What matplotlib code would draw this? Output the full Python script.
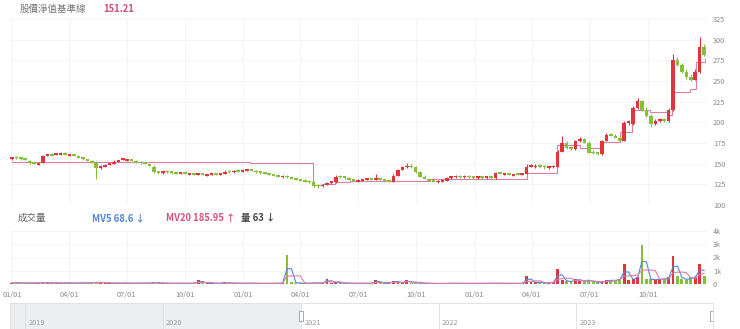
import numpy as np
import pandas as pd
import matplotlib
matplotlib.use("Agg")
import matplotlib.pyplot as plt
import matplotlib.dates as md
from matplotlib.patches import Rectangle
from matplotlib import transforms

plt.rcParams['font.family'] = ['Noto Sans CJK TC', 'DejaVu Sans']

# weekly candles, starting 2021-01-01
start_date = "2021-01-01"
opens = [156, 158, 157, 156, 154, 151, 149, 152, 160, 162,
         161, 161, 163, 160, 161, 159, 157, 155, 153, 152,
         145, 147, 149, 150, 153, 155, 154, 155, 153, 152,
         151, 150, 147, 140, 139, 141, 140, 139, 138, 139,
         137, 138, 137, 138, 136, 137, 138, 137, 138, 141,
         140, 142, 141, 142, 143, 141, 140, 139, 138, 137,
         136, 134, 135, 134, 132, 131, 130, 129, 128, 124,
         123, 125, 127, 128, 135, 134, 133, 131, 129, 130,
         131, 132, 131, 133, 131, 130, 129, 136, 143, 146,
         148, 146, 140, 135, 132, 130, 128, 129, 130, 133,
         134, 135, 134, 135, 134, 133, 134, 133, 134, 133,
         139, 137, 138, 136, 138, 137, 138, 147, 146, 148,
         147, 145, 146, 147, 165, 176, 170, 168, 178, 180,
         176, 164, 163, 162, 178, 185, 184, 182, 178, 200,
         198, 218, 226, 215, 208, 198, 202, 203, 202, 215,
         276, 270, 262, 255, 252, 262, 292]
highs = [158, 159, 158, 157, 155, 152, 151, 161, 162, 163,
         163, 164, 164, 162, 162, 160, 158, 156, 154, 153,
         148, 149, 151, 154, 155, 156, 156, 156, 154, 153,
         152, 151, 148, 141, 141, 142, 141, 140, 140, 140,
         139, 139, 139, 139, 138, 139, 139, 139, 142, 142,
         142, 143, 143, 144, 144, 142, 141, 140, 139, 138,
         137, 136, 136, 135, 133, 132, 131, 130, 129, 125,
         126, 128, 129, 136, 136, 135, 134, 132, 131, 132,
         133, 133, 137, 134, 132, 131, 137, 144, 147, 151,
         149, 147, 141, 136, 133, 131, 130, 131, 134, 135,
         136, 136, 136, 136, 135, 135, 135, 135, 135, 140,
         140, 139, 139, 138, 139, 139, 149, 149, 149, 149,
         148, 147, 148, 167, 183, 177, 171, 179, 182, 181,
         177, 166, 164, 179, 187, 187, 186, 184, 202, 203,
         220, 229, 227, 218, 210, 204, 205, 205, 217, 283,
         279, 272, 264, 258, 264, 303, 295]
lows = [155, 156, 155, 154, 150, 149, 148, 151, 159, 159,
        160, 160, 160, 159, 159, 157, 155, 153, 151, 132,
        144, 146, 148, 149, 152, 154, 153, 153, 151, 150,
        149, 147, 139, 138, 138, 139, 138, 137, 137, 137,
        136, 136, 136, 136, 135, 136, 136, 136, 137, 139,
        139, 140, 140, 141, 141, 139, 138, 137, 136, 135,
        134, 133, 133, 131, 130, 129, 128, 127, 122, 121,
        122, 124, 126, 127, 133, 132, 130, 129, 128, 129,
        130, 130, 130, 130, 129, 128, 128, 135, 142, 145,
        145, 139, 134, 131, 129, 128, 127, 128, 129, 132,
        133, 133, 133, 133, 132, 132, 132, 132, 132, 132,
        137, 136, 136, 135, 136, 136, 137, 146, 145, 145,
        144, 144, 145, 146, 164, 168, 166, 167, 176, 175,
        163, 162, 161, 161, 177, 183, 181, 177, 177, 197,
        197, 216, 214, 207, 194, 197, 200, 200, 201, 214,
        268, 260, 252, 250, 251, 260, 280]
closes = [157, 157, 156, 155, 151, 150, 150, 160, 161, 160,
          162, 163, 161, 161, 160, 158, 156, 154, 152, 145,
          147, 148, 150, 153, 154, 155, 155, 154, 152, 151,
          150, 148, 140, 139, 140, 140, 139, 138, 139, 138,
          138, 137, 138, 137, 137, 138, 137, 138, 141, 140,
          141, 141, 142, 143, 142, 140, 139, 138, 137, 136,
          135, 135, 134, 132, 131, 130, 129, 128, 124, 123,
          125, 127, 128, 135, 134, 133, 131, 130, 130, 131,
          132, 131, 133, 131, 130, 129, 136, 143, 146, 148,
          146, 140, 135, 132, 130, 129, 129, 130, 133, 134,
          135, 134, 135, 134, 133, 134, 133, 134, 133, 139,
          138, 138, 137, 137, 137, 138, 147, 148, 147, 147,
          146, 146, 147, 165, 176, 170, 168, 178, 180, 176,
          164, 163, 162, 178, 185, 184, 182, 178, 200, 200,
          218, 226, 215, 208, 198, 202, 203, 202, 215, 276,
          270, 262, 255, 252, 262, 292, 282]
volumes = [80, 90, 70, 60, 90, 80, 70, 100, 90, 80,
           70, 80, 90, 70, 60, 70, 80, 90, 100, 150,
           90, 80, 70, 60, 60, 70, 60, 50, 60, 70,
           60, 80, 120, 70, 60, 50, 50, 60, 50, 50,
           60, 50, 300, 70, 60, 50, 60, 50, 120, 60,
           50, 50, 60, 70, 50, 50, 40, 40, 50, 50,
           60, 70, 2200, 120, 80, 60, 50, 60, 80, 90,
           60, 400, 80, 120, 70, 60, 50, 50, 60, 50,
           50, 50, 300, 60, 50, 50, 250, 120, 80, 300,
           90, 80, 60, 50, 40, 40, 40, 40, 50, 60,
           50, 40, 50, 40, 40, 50, 40, 60, 50, 60,
           50, 50, 40, 50, 40, 50, 600, 150, 120, 100,
           80, 90, 120, 1100, 300, 200, 150, 400, 250, 200,
           300, 150, 120, 150, 300, 250, 300, 350, 1500, 300,
           400, 500, 2950, 400, 350, 300, 400, 350, 500, 2100,
           600, 400, 300, 500, 550, 1500, 600]

# benchmark line (step changes)
bench_dates = ["2021-01-01", "2021-05-04", "2021-09-07", "2022-01-11", "2022-04-21",
               "2022-05-05", "2022-05-25", "2022-06-18", "2022-10-22", "2023-02-02",
               "2023-03-24", "2023-05-11", "2023-06-16", "2023-07-17", "2023-08-18",
               "2023-09-07", "2023-10-04", "2023-10-31", "2023-11-08", "2023-12-06",
               "2023-12-17", "2023-12-31"]
bench_values = [152.4, 152.0, 151.6, 151.0, 124.5,
                126, 128, 129.5, 131, 132,
                138.5, 172, 169, 176, 188,
                215, 212, 209, 237, 240,
                273, 277]

years = ["2019", "2020", "2021", "2022", "2023"]

RED = "#e0353d"
GREEN = "#86bf3c"
PINK = "#dc7fa5"
BLUE = "#5585d8"
TICK = "#8a8a8a"
GRID = "#f2f2f2"

assert len(opens) == len(highs) == len(lows) == len(closes) == len(volumes)

dates = pd.date_range(start_date, periods=len(closes), freq="7D")
x = md.date2num(dates)
o, h, l, c = map(np.array, (opens, highs, lows, closes))
up = c >= o
cols = np.where(up, RED, GREEN)

W, H = 740, 329
fig = plt.figure(figsize=(W / 100, H / 100), dpi=100)


def box(left, top, right, bottom):
    return [left / W, 1 - bottom / H, (right - left) / W, (bottom - top) / H]


ax = fig.add_axes(box(10, 19, 706, 205))
axv = fig.add_axes(box(10, 231, 706, 284))
axn = fig.add_axes(box(10, 303, 713, 329))

xmin, xmax = x[0] - 3, x[-1] + 3
qticks = md.date2num(pd.date_range("2021-01-01", "2023-10-01", freq="QS"))

# price panel
bx = md.date2num(pd.to_datetime(bench_dates))
ax.plot(bx, bench_values, drawstyle="steps-post", color=PINK, lw=0.8, zorder=2)
ax.vlines(x, l, h, colors=cols, lw=0.8, zorder=3)
ax.bar(x, np.maximum(np.abs(c - o), 2.2), bottom=np.minimum(o, c) - 0.6, width=5.6,
       color=cols, zorder=4)
ax.set_xlim(xmin, xmax)
ax.set_ylim(100, 325)
ax.set_yticks(np.arange(100, 326, 25))
ax.set_xticks(qticks)
ax.tick_params(axis="x", labelbottom=False, length=0)
ax.yaxis.tick_right()
ax.tick_params(axis="y", length=0, pad=5, labelsize=5.3, labelcolor=TICK)
ax.grid(True, color=GRID, lw=0.6)
for s in ax.spines.values():
    s.set_visible(False)

# volume panel
axv.bar(x, volumes, width=4.5, color=cols, zorder=3)
vol = pd.Series(volumes, dtype=float)
axv.plot(x, vol.rolling(2, min_periods=1).mean(), color=BLUE, lw=0.8, zorder=4)
axv.plot(x, vol.rolling(4, min_periods=1).mean(), color=PINK, lw=0.8, zorder=4)
axv.set_xlim(xmin, xmax)
axv.set_ylim(0, 4000)
axv.set_yticks([0, 1000, 2000, 3000, 4000])
axv.set_yticklabels(["0", "1k", "2k", "3k", "4k"])
axv.yaxis.tick_right()
axv.set_xticks(qticks)
axv.xaxis.set_major_formatter(md.DateFormatter("%m/%d"))
axv.tick_params(axis="y", length=0, pad=5, labelsize=5.3, labelcolor=TICK)
axv.tick_params(axis="x", length=0, pad=5, labelsize=5.3, labelcolor=TICK)
axv.grid(True, color=GRID, lw=0.6)
for s in axv.spines.values():
    s.set_visible(False)

# navigator
n0, n1 = md.date2num(pd.Timestamp("2018-11-21")), md.date2num(pd.Timestamp("2023-12-29"))
axn.set_xlim(n0, n1)
axn.set_ylim(0, 1)
sel = md.date2num(pd.Timestamp(start_date))
axn.axvspan(n0, sel, color="#eceef1", lw=0)
for y in years:
    yx = md.date2num(pd.Timestamp(y + "-01-01"))
    axn.axvline(yx, color="#dcdee1", lw=0.6)
    axn.text(yx + 8, 0.22, y, fontsize=5.3, color="#9a9a9a", va="center")
trans = transforms.blended_transform_factory(axn.transData, axn.transAxes)
for hx in (sel, n1 - 2):
    axn.add_patch(Rectangle((hx - 6, 0.3), 12, 0.4, transform=trans,
                            facecolor="white", edgecolor="#9a9a9a", lw=0.6, zorder=5))
axn.set_xticks([])
axn.set_yticks([])
for s in axn.spines.values():
    s.set_color("#dcdfe3")
    s.set_linewidth(0.6)

# header texts
fig.text(20 / W, 1 - 9 / H, "股價淨值基準線", fontsize=6.8, color="#777777", va="center")
fig.text(103 / W, 1 - 9 / H, "151.21", fontsize=6.8, color="#d0507f", va="center",
         fontweight="bold")
fig.text(18 / W, 1 - 218 / H, "成交量", fontsize=6.8, color="#666666", va="center")
fig.text(92 / W, 1 - 218 / H, "MV5 68.6 ↓", fontsize=6.8, color=BLUE, va="center",
         fontweight="bold")
fig.text(166 / W, 1 - 218 / H, "MV20 185.95 ↑", fontsize=6.8, color="#d6537e",
         va="center", fontweight="bold")
fig.text(241 / W, 1 - 218 / H, "量 63 ↓", fontsize=6.8, color="#444444", va="center",
         fontweight="bold")

fig.savefig("out.png", dpi=100)
